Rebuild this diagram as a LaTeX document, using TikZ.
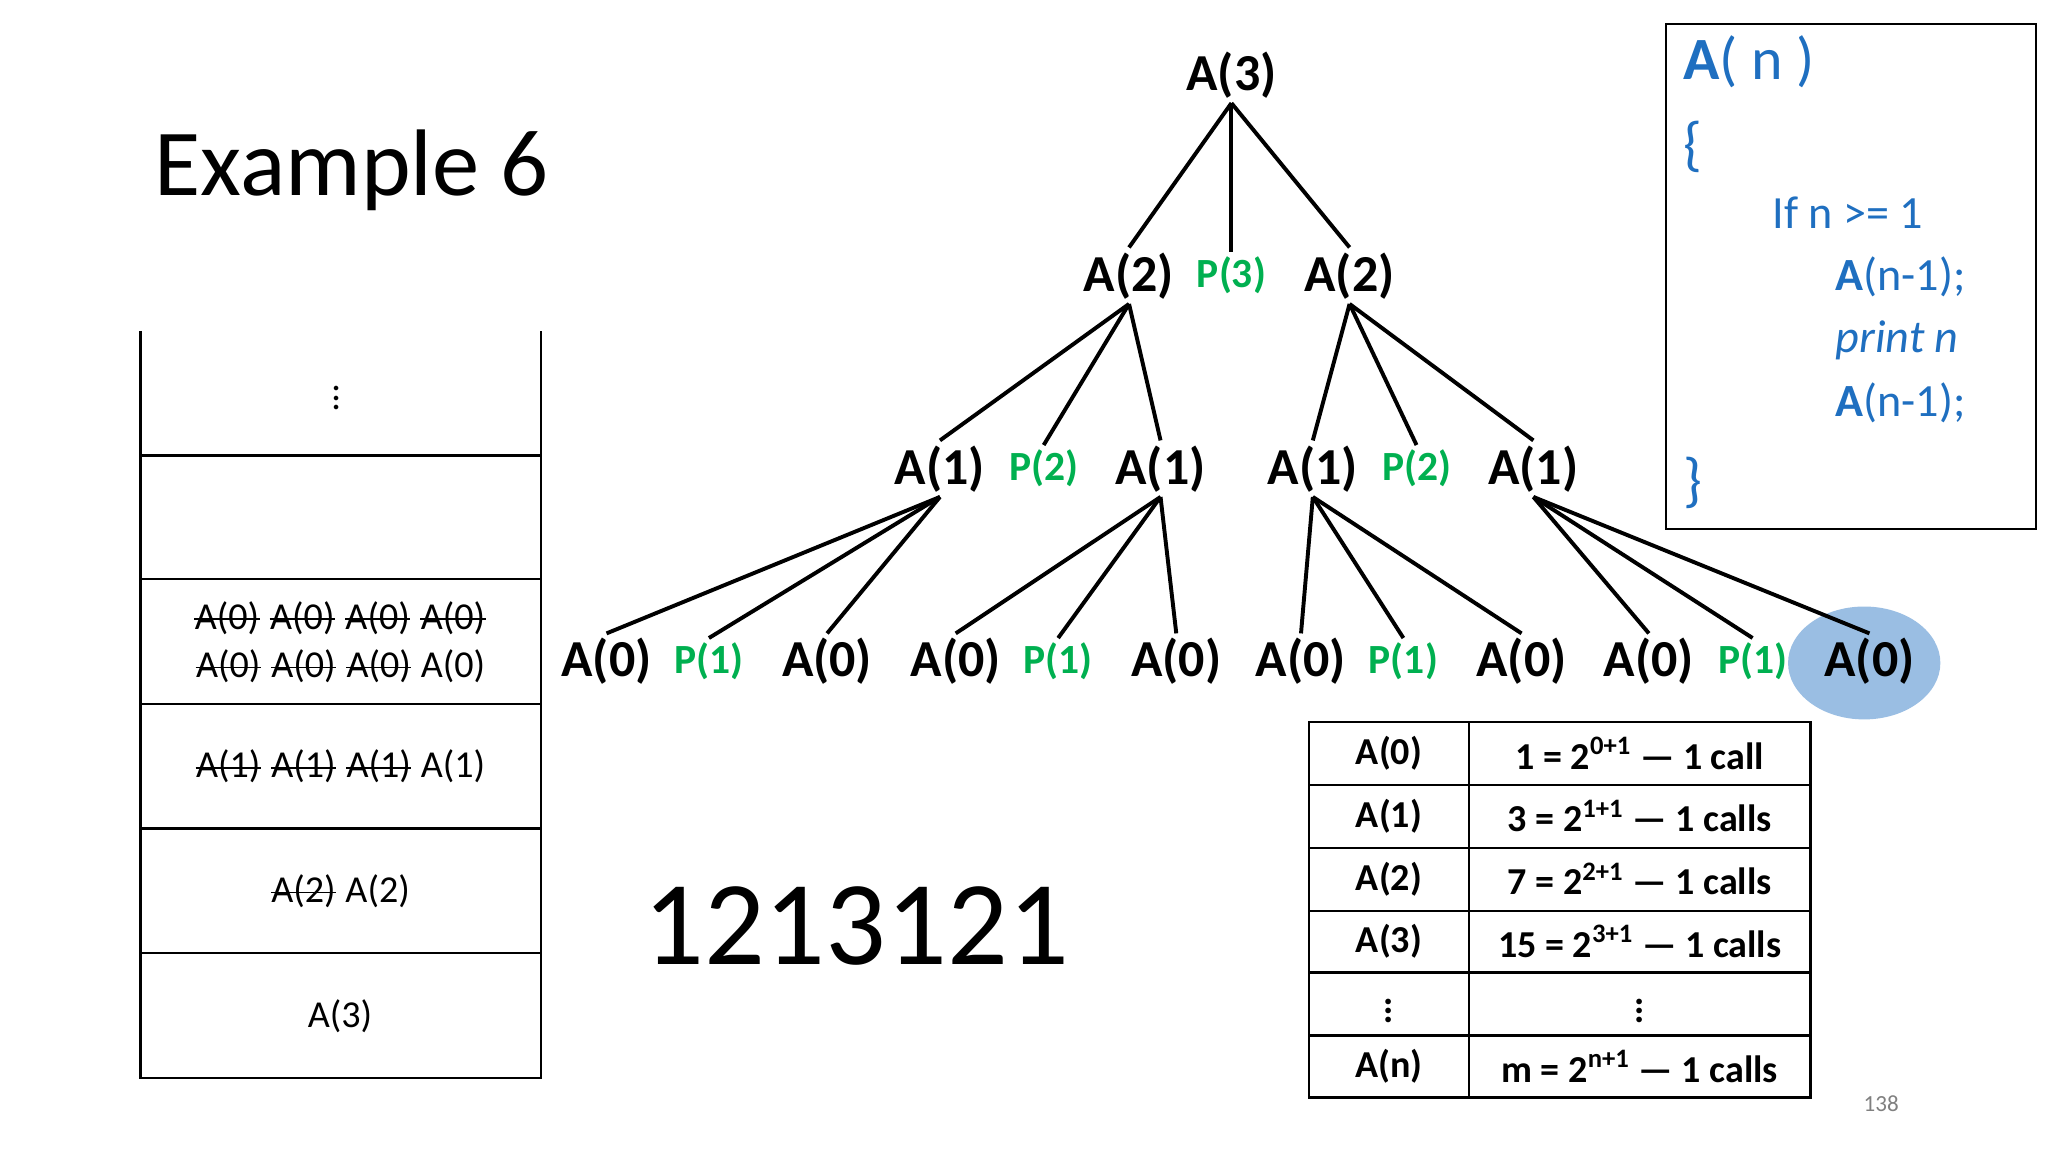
\documentclass[tikz,border=0pt]{standalone}
\usepackage{fontspec}
\setmainfont{Carlito}
\newcommand\stk[1]{\tikz[baseline=(w.base)]{\node[inner sep=0pt] (w) {#1};\draw[line width=0.6pt] ([yshift=-0.5pt]w.west) -- ([yshift=-0.5pt]w.east);}}
\definecolor{pg}{HTML}{00B050}
\definecolor{cb}{HTML}{1F6FC0}
\begin{document}
\begin{tikzpicture}[x=0.02cm,y=-0.02cm,
  tn/.style={font=\fontsize{22.5}{26}\selectfont\bfseries,inner sep=2pt},
  pn/.style={font=\fontsize{18}{22}\selectfont\bfseries,text=pg,inner sep=2pt},
  ed/.style={line width=1.7pt},
  st/.style={font=\fontsize{16.5}{21}\selectfont},
  tb/.style={font=\fontsize{16.5}{20}\selectfont\bfseries},
  cd/.style={font=\fontsize{20}{24}\selectfont,text=cb,anchor=west}]
\useasboundingbox (0,0) rectangle (1560,878);
\fill[white] (0,0) rectangle (1560,878);
\node[font=\fontsize{41}{46}\selectfont] (ex) at (268,130) {Example 6};
% tree
\node[tn] (a3) at (938,57) {A(3)};
\node[tn] (a2a) at (860,210) {A(2)};
\node[pn] (p3) at (938,210) {P(3)};
\node[tn] (a2b) at (1028,210) {A(2)};
\foreach \n/\x in {a1a/716,a1b/884,a1c/1000,a1d/1168} \node[tn] (\n) at (\x,357) {A(1)};
\node[pn] (p2a) at (795,357) {P(2)};
\node[pn] (p2b) at (1079,357) {P(2)};
\fill[cb!45] (1420,505) ellipse (58 and 43);
\foreach \n/\x in {z1/462,z2/630,z3/728,z4/896,z5/991,z6/1159,z7/1256,z8/1424} \node[tn] (\n) at (\x,504) {A(0)};
\foreach \n/\x in {q1/540,q2/806,q3/1069,q4/1335} \node[pn] (\n) at (\x,504) {P(1)};
\foreach \p/\c in {a3/a2a,a3/p3,a3/a2b,a2a/a1a,a2a/p2a,a2a/a1b,a2b/a1c,a2b/p2b,a2b/a1d,
  a1a/z1,a1a/q1,a1a/z2,a1b/z3,a1b/q2,a1b/z4,a1c/z5,a1c/q3,a1c/z6,a1d/z7,a1d/q4,a1d/z8}
  \draw[ed] (\p.south) -- (\c.north);
% stack
\draw[line width=1pt] (107,252) -- (107,821) -- (412,821) -- (412,252);
\foreach \y in {347,441,536,631,726} \draw[line width=1pt] (107,\y) -- (412,\y);
\node[st] (s0) at (256,298) {$\vdots$};
\node[st,align=center] (s1) at (259,489) {\stk{A(0)} \stk{A(0)} \stk{A(0)} \stk{A(0)}\\\stk{A(0)} \stk{A(0)} \stk{A(0)} A(0)};
\node[st] (s2) at (259,584) {\stk{A(1)} \stk{A(1)} \stk{A(1)} A(1)};
\node[st] (s3) at (259,679) {\stk{A(2)} A(2)};
\node[st] (s4) at (259,774) {A(3)};
\node[font=\fontsize{52}{56}\selectfont] (seq) at (652,705) {1213121};
% table
\draw[line width=1.2pt] (997,550) rectangle (1379,836);
\foreach \y in {598,646,694,741,789} \draw[line width=1.2pt] (997,\y) -- (1379,\y);
\draw[line width=1.2pt] (1119,550) -- (1119,836);
\foreach \i/\l/\r in {0/A(0)/{1 = 2\textsuperscript{0+1} — 1 call},1/A(1)/{3 = 2\textsuperscript{1+1} — 1 calls},2/A(2)/{7 = 2\textsuperscript{2+1} — 1 calls},3/A(3)/{15 = 2\textsuperscript{3+1} — 1 calls},4/$\vdots$/$\vdots$,5/A(n)/{m = 2\textsuperscript{n+1} — 1 calls}}{
  \node[tb] (tl\i) at (1058,574+47.7*\i) {\l};
  \node[tb] (tr\i) at (1249,574+47.7*\i) {\r};}
% code box
\draw[line width=0.8pt] (1269,18) rectangle (1551,403);
\node[cd,font=\fontsize{26}{30}\selectfont] (c0) at (1276,47) {\textbf{A}( n )};
\node[cd,font=\fontsize{26}{30}\selectfont] (c1) at (1276,112) {\{};
\node[cd] (c2) at (1344,162) {If n >= 1};
\node[cd] (c3) at (1392,211) {\textbf{A}(n-1);};
\node[cd] (c4) at (1392,259) {\itshape print n};
\node[cd] (c5) at (1392,307) {\textbf{A}(n-1);};
\node[cd,font=\fontsize{26}{30}\selectfont] (c6) at (1276,368) {\}};
\node[font=\fontsize{10}{12}\selectfont,text=gray] (pg) at (1433,841) {138};
\end{tikzpicture}
\end{document}
